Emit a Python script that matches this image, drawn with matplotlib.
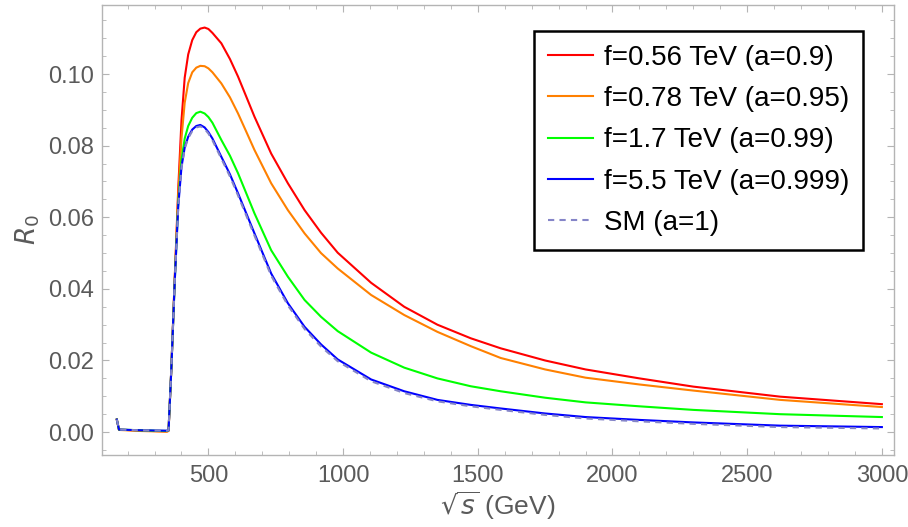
import numpy as np
import matplotlib
matplotlib.use("Agg")
import matplotlib.pyplot as plt
from matplotlib.ticker import MultipleLocator, FormatStrFormatter

# ---- data (sqrt(s) in GeV, R_0) ----
sqrt_s = [160, 168, 250, 346, 352, 362, 375, 388, 400, 412, 425, 440, 455, 470,
          486, 500, 515, 548, 580, 610, 640, 671, 733, 795, 857, 918, 980, 1104,
          1227, 1350, 1474, 1585, 1750, 1900, 2100, 2300, 2622, 3000]

r0_a090 = [0.0035, 0.0007, 0.0004, 0.0002, 0.0004, 0.017, 0.043, 0.068, 0.087,
           0.099, 0.1055, 0.1095, 0.1117, 0.1127, 0.1130, 0.1126, 0.1115, 0.1086,
           0.1042, 0.0993, 0.0938, 0.0881, 0.0778, 0.0695, 0.0620, 0.0557, 0.0501,
           0.0417, 0.0350, 0.0300, 0.0262, 0.0234, 0.0200, 0.0175, 0.0150, 0.0127,
           0.0099, 0.0078]
r0_a095 = [0.0035, 0.0006, 0.0003, 0.0001, 0.0003, 0.017, 0.043, 0.066, 0.082,
           0.092, 0.0975, 0.1005, 0.1018, 0.1023, 0.1022, 0.1016, 0.1005, 0.0974,
           0.0935, 0.0890, 0.0840, 0.0788, 0.0695, 0.0620, 0.0555, 0.0500, 0.0457,
           0.0383, 0.0327, 0.0280, 0.0240, 0.0207, 0.0175, 0.0152, 0.0133, 0.0116,
           0.0090, 0.0070]
r0_a099 = [0.0035, 0.0007, 0.0005, 0.0003, 0.0005, 0.017, 0.042, 0.064, 0.076,
           0.082, 0.0855, 0.0878, 0.0891, 0.0895, 0.0890, 0.0880, 0.0864, 0.0816,
           0.0772, 0.0723, 0.0668, 0.0611, 0.0508, 0.0434, 0.0369, 0.0322, 0.0282,
           0.0222, 0.0180, 0.0150, 0.0128, 0.0114, 0.0096, 0.0083, 0.0072, 0.0062,
           0.0050, 0.0042]
r0_a0999 = [0.0035, 0.0007, 0.0005, 0.0004, 0.0005, 0.017, 0.042, 0.063, 0.074,
            0.0795, 0.0825, 0.0845, 0.0855, 0.0858, 0.0851, 0.0838, 0.0820, 0.0769,
            0.0720, 0.0667, 0.0612, 0.0555, 0.0443, 0.0360, 0.0294, 0.0245, 0.0203,
            0.0147, 0.0114, 0.0090, 0.0076, 0.0066, 0.0052, 0.0042, 0.0034, 0.0027,
            0.0018, 0.0014]
r0_sm = [0.0035, 0.0007, 0.0005, 0.0004, 0.0005, 0.017, 0.042, 0.063, 0.0738,
         0.0792, 0.0821, 0.0841, 0.0851, 0.0854, 0.0847, 0.0834, 0.0815, 0.0764,
         0.0714, 0.0661, 0.0606, 0.0549, 0.0437, 0.0354, 0.0288, 0.0239, 0.0198,
         0.0142, 0.0109, 0.0086, 0.0072, 0.0062, 0.0048, 0.0038, 0.0030, 0.0023,
         0.0014, 0.0010]

labels = ["f=0.56 TeV (a=0.9)", "f=0.78 TeV (a=0.95)", "f=1.7 TeV (a=0.99)",
          "f=5.5 TeV (a=0.999)", "SM (a=1)"]
colors = ["#ff0000", "#ff8000", "#00ff00", "#0000ff", "#8585c8"]

plt.rcParams['font.family'] = ['Liberation Sans', 'DejaVu Sans']
plt.rcParams['mathtext.fontset'] = 'dejavusans'

gray = "#5a5a5a"
frame = "#b4b4b4"

fig = plt.figure(figsize=(9.08, 5.27), dpi=100)
ax = fig.add_axes([102 / 908, 1 - 455 / 527, 792 / 908, 450 / 527])

series = [r0_a090, r0_a095, r0_a099, r0_a0999]
for y, c, lab in zip(series, colors[:4], labels[:4]):
    ax.plot(sqrt_s, y, color=c, lw=1.5, label=lab)
ax.plot(sqrt_s, r0_sm, color=colors[4], lw=1.5, ls=(0, (3, 2.5)), label=labels[4])

ax.set_xlim(105, 3045)
ax.set_ylim(-0.0064, 0.1193)

ax.xaxis.set_major_locator(MultipleLocator(500))
ax.xaxis.set_minor_locator(MultipleLocator(100))
ax.yaxis.set_major_locator(MultipleLocator(0.02))
ax.yaxis.set_minor_locator(MultipleLocator(0.005))
ax.yaxis.set_major_formatter(FormatStrFormatter('%.2f'))

for s in ax.spines.values():
    s.set_color(frame)
    s.set_linewidth(1.0)
ax.tick_params(which='both', direction='in', top=True, right=True,
               color=frame, labelcolor=gray, labelsize=17)
ax.tick_params(which='major', length=5, width=0.8)
ax.tick_params(which='minor', length=3, width=0.6)
ax.tick_params(axis='x', pad=7)
ax.tick_params(axis='y', pad=6)

ax.set_xlabel(r"$\sqrt{s}$ (GeV)", fontsize=19, color=gray, labelpad=2)
ax.set_ylabel(r"$R_0$", fontsize=19, color=gray, labelpad=4)

leg = ax.legend(loc='upper right', bbox_to_anchor=(761 / 792, 424 / 450),
                borderaxespad=0, fontsize=20, frameon=True, fancybox=False,
                edgecolor='black', framealpha=1, handlelength=1.6,
                handletextpad=0.4, labelspacing=0.55, borderpad=0.5)
leg.get_frame().set_linewidth(1.8)

fig.savefig("out.png", dpi=100)
